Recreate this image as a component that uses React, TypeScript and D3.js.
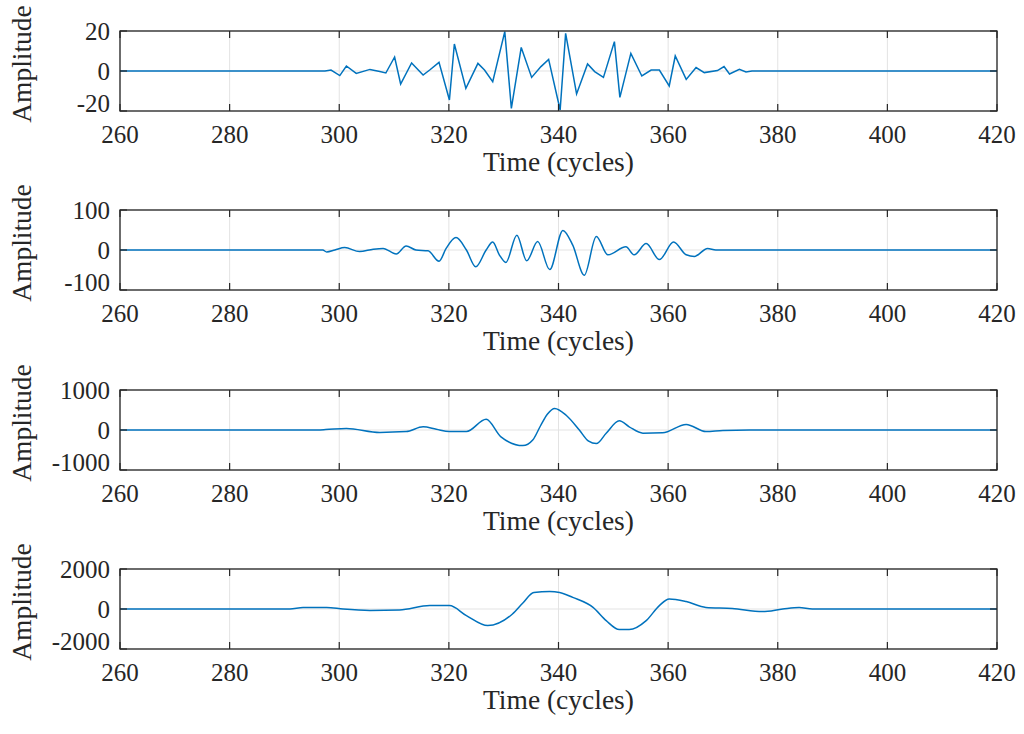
import React from "react";
import * as d3 from "d3";

const xTicks = [260, 280, 300, 320, 340, 360, 380, 400, 420];
const yLimits = [20, 100, 1000, 2000];

const t1 = [260, 297.4, 298.5, 300.1, 301.3, 303.1, 305.6, 307.4, 308.5, 310.1, 311.2, 313.2, 315.3, 316.5, 318.2, 320.1, 321.0, 323.1, 325.3, 326.5, 328.0, 330.2, 331.4, 333.2, 335.1, 336.8, 338.2, 340.3, 341.3, 343.3, 345.3, 346.6, 348.2, 350.2, 351.2, 353.2, 355.2, 356.9, 358.4, 360.2, 361.3, 363.3, 365.1, 366.6, 369.0, 370.2, 371.2, 373.0, 374.2, 375.3, 420];
const v1 = [0, 0, 0.5, -2.3, 2.5, -1.2, 0.8, -0.3, -1, 7, -6.5, 4, -2, 0.5, 4.3, -14.5, 13.5, -8.7, 3.8, 0.5, -5.3, 19.7, -18.7, 11.8, -3.2, 2.2, 5.8, -19.5, 18.8, -11.5, 3.5, -0.3, -3.2, 14.7, -13.2, 8.8, -2.5, 0.5, 0.5, -7.5, 7.5, -4.2, 1.7, -0.8, 0.2, 2.2, -1.5, 0.8, -0.5, 0, 0];

const t2 = [260, 297, 297.7, 299.2, 301, 303.7, 306.2, 308, 310.4, 312.2, 314, 316.2, 318.2, 319.5, 321.3, 323.2, 324.9, 326.8, 328.0, 329.2, 330.4, 332.4, 334.2, 336.2, 338.4, 340.8, 342.6, 344.7, 346.9, 349.0, 352.3, 353.8, 356.0, 358.4, 361.0, 363.3, 364.8, 367.2, 368.7, 420];
const v2 = [0, 0, -5, 0, 6, -4, 2, 4, -10, 10, 0, -2, -28, 4, 31, 0, -42, 0, 20, -12, -31, 37, -27, 21, -49, 49, 12, -63, 34, -12, 8, -12, 16, -24, 20, -12, -16, 4, 0, 0];

const t3 = [260, 295, 297.5, 301.3, 307.4, 312.2, 315.3, 317.7, 320.1, 323.2, 326.8, 329.5, 333.5, 335.3, 336.7, 338.0, 339.3, 341.4, 343.8, 345.5, 346.9, 348.7, 351.1, 352.9, 355.4, 359.0, 363.3, 366.9, 370, 374.8, 420];
const v3 = [0, 0, 10, 40, -60, -40, 80, 20, -40, -40, 270, -170, -390, -250, 100, 400, 540, 370, 0, -280, -340, -80, 230, 80, -80, -70, 140, -40, -10, 0, 0];

const t4 = [260, 291, 293.4, 297.7, 300.7, 305.6, 311, 316.5, 320.1, 323.2, 327.1, 331.6, 333.5, 335.5, 338.4, 340.2, 342.6, 346.3, 348.7, 351.1, 352.9, 356, 358.4, 360.2, 363.3, 366.9, 371.7, 377.2, 380.9, 383.9, 386.3, 420];
const v4 = [0, 0, 80, 80, 0, -70, -50, 170, 170, -330, -830, -250, 300, 830, 870, 830, 580, 80, -580, -1030, -1030, -580, 170, 500, 370, 80, 30, -130, 0, 80, 0, 0];

const seriesT = [t1, t2, t3, t4];
const seriesV = [v1, v2, v3, v4];

const W = 1024;
const H = 734;
const LEFT = 120;
const RIGHT = 997;
const TOPS = [31, 210, 390, 569];
const PH = 80;
const FONT = "'Liberation Serif', 'Times New Roman', serif";
const TXT = "#262626";
const LINE = "#0072BD";
const TICK_FS = 25;
const LABEL_FS = 27.5;

function Panel({ idx }: { idx: number }) {
  const top = TOPS[idx];
  const lim = yLimits[idx];
  const x = d3.scaleLinear().domain([260, 420]).range([LEFT, RIGHT]);
  const y = d3.scaleLinear().domain([-lim, lim]).range([top + PH, top]);
  const yTicks = [lim, 0, -lim];
  const data = seriesT[idx].map((t, i) => [t, seriesV[idx][i]] as [number, number]);
  const gen = d3
    .line<[number, number]>()
    .x((d) => x(d[0]))
    .y((d) => y(d[1]))
    .curve(idx === 0 ? d3.curveLinear : d3.curveMonotoneX);
  const clipId = `clip${idx}`;
  const yOff = (v: number) => (v === -lim ? 1 : 9);
  return (
    <g>
      <defs>
        <clipPath id={clipId}>
          <rect x={LEFT} y={top - 1} width={RIGHT - LEFT} height={PH + 2} />
        </clipPath>
      </defs>
      {xTicks.map((t) => (
        <line key={"gx" + t} x1={x(t)} x2={x(t)} y1={top} y2={top + PH} stroke="#e3e3e3" strokeWidth={1} />
      ))}
      {yTicks.map((v) => (
        <line key={"gy" + v} x1={LEFT} x2={RIGHT} y1={y(v)} y2={y(v)} stroke="#e3e3e3" strokeWidth={1} />
      ))}
      <path d={gen(data) || ""} fill="none" stroke={LINE} strokeWidth={1.5} clipPath={`url(#${clipId})`} />
      {xTicks.map((t) => (
        <g key={"tx" + t}>
          <line x1={x(t)} x2={x(t)} y1={top + PH} y2={top + PH - 7} stroke={TXT} strokeWidth={1.2} />
          <line x1={x(t)} x2={x(t)} y1={top} y2={top + 7} stroke={TXT} strokeWidth={1.2} />
          <text x={x(t)} y={top + PH + 32} textAnchor="middle" fontFamily={FONT} fontSize={TICK_FS} fill={TXT}>
            {t}
          </text>
        </g>
      ))}
      {yTicks.map((v) => (
        <g key={"ty" + v}>
          <line x1={LEFT} x2={LEFT + 7} y1={y(v)} y2={y(v)} stroke={TXT} strokeWidth={1.2} />
          <line x1={RIGHT} x2={RIGHT - 7} y1={y(v)} y2={y(v)} stroke={TXT} strokeWidth={1.2} />
          <text x={LEFT - 10} y={y(v) + yOff(v)} textAnchor="end" fontFamily={FONT} fontSize={TICK_FS} fill={TXT}>
            {v}
          </text>
        </g>
      ))}
      <rect x={LEFT} y={top} width={RIGHT - LEFT} height={PH} fill="none" stroke={TXT} strokeWidth={1.3} />
      <text
        x={(LEFT + RIGHT) / 2}
        y={top + PH + 60}
        textAnchor="middle"
        fontFamily={FONT}
        fontSize={LABEL_FS}
        fill={TXT}
      >
        Time (cycles)
      </text>
      <text
        transform={`translate(31, ${top + PH / 2 - 7}) rotate(-90)`}
        textAnchor="middle"
        fontFamily={FONT}
        fontSize={LABEL_FS}
        fill={TXT}
      >
        Amplitude
      </text>
    </g>
  );
}

export default function App() {
  return (
    <svg
      width={W}
      height={H}
      style={{ position: "absolute", left: 0, top: 0, background: "#fff" }}
    >
      <rect x={0} y={0} width={W} height={H} fill="#fff" />
      {[0, 1, 2, 3].map((i) => (
        <Panel key={i} idx={i} />
      ))}
    </svg>
  );
}
